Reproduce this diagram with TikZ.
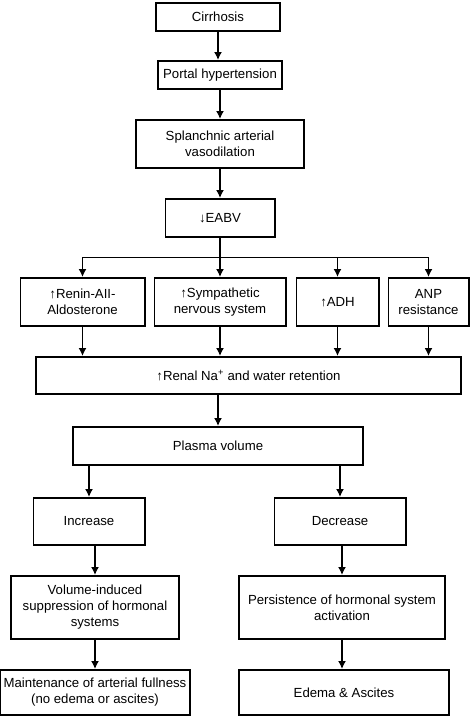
\documentclass[tikz,border=0pt]{standalone}
\usepackage{fontspec}
\setmainfont{Liberation Sans}
\usepackage{tikz}
\usetikzlibrary{arrows.meta,positioning,calc}

\begin{document}
\begin{tikzpicture}[x=1pt,y=1pt,node distance=29pt,box/.style={draw,line width=1.6pt,align=center,inner sep=2pt,font=\fontsize{13.2}{16}\selectfont},arr/.style={-{Latex[length=8pt,width=8pt]},line width=1.5pt}]
\useasboundingbox (0,0) rectangle (473,-718);
\node[box,minimum width=124.4pt,minimum height=28.4pt] (cirr) at (218,-17) {Cirrhosis};
\node[box,minimum width=124.4pt,minimum height=28.4pt,below=28pt of cirr,xshift=2pt] (portal) {Portal hypertension};
\node[box,minimum width=168.4pt,minimum height=48.4pt,below=of portal] (splanch) {Splanchnic arterial\\vasodilation};
\node[box,minimum width=109.4pt,minimum height=38.4pt,below=of splanch] (eabv) {↓EABV};
\node[box,minimum width=131.4pt,minimum height=48.4pt,below=39pt of eabv] (symp) {↑Sympathetic\\nervous system};
\node[box,minimum width=124.4pt,minimum height=48.4pt,left=8pt of symp] (renin) {↑Renin-AII-\\Aldosterone};
\node[box,minimum width=82.4pt,minimum height=48.4pt,right=9pt of symp] (adh) {↑ADH};
\node[box,minimum width=80.4pt,minimum height=48.4pt,right=8pt of adh] (anp) {ANP\\resistance};
\node[box,minimum width=425.4pt,minimum height=37.4pt,below=of symp,xshift=28.5pt] (renal) {↑Renal Na\textsuperscript{+} and water retention};
\node[box,minimum width=290.4pt,minimum height=38.4pt,below=31pt of renal,xshift=-30.5pt] (plasma) {Plasma volume};
\node[box,minimum width=111.4pt,minimum height=47.4pt,below=31pt of plasma.south west,xshift=17pt] (inc) {Increase};
\node[box,minimum width=131.4pt,minimum height=47.4pt,below=31pt of plasma.south east,xshift=-24pt] (dec) {Decrease};
\node[box,minimum width=168.4pt,minimum height=63.4pt,below=of inc,xshift=6pt] (vol) {Volume-induced\\suppression of hormonal\\systems};
\node[box,minimum width=206.4pt,minimum height=63.4pt,below=of dec,xshift=2pt] (pers) {Persistence of hormonal system\\activation};
\node[box,minimum width=190.4pt,minimum height=45.4pt,below=of vol] (maint) {Maintenance of arterial fullness\\(no edema or ascites)};
\node[box,minimum width=210.4pt,minimum height=45.4pt,below=of pers,xshift=2pt] (edema) {Edema \& Ascites};
\coordinate (split) at ($(eabv.south)!0.5!(eabv.south |- symp.north)$);
\foreach \u/\v in {cirr/portal,portal/splanch,splanch/eabv,eabv/symp,vol/maint,pers/edema}{\draw[arr] (\u.south) -- (\u.south |- \v.north);}
\foreach \v in {renin,adh,anp}{\draw[arr] (split) -| (\v.north);}
\foreach \u in {renin,symp,adh,anp}{\draw[arr] (\u.south) -- (\u.south |- renal.north);}
\draw[arr] (plasma.north |- renal.south) -- (plasma.north);
\draw[arr] (inc.north |- plasma.south) -- (inc.north); \draw[arr] (dec.north |- plasma.south) -- (dec.north);
\draw[arr] (vol.north |- inc.south) -- (vol.north); \draw[arr] (pers.north |- dec.south) -- (pers.north);
\end{tikzpicture}
\end{document}
